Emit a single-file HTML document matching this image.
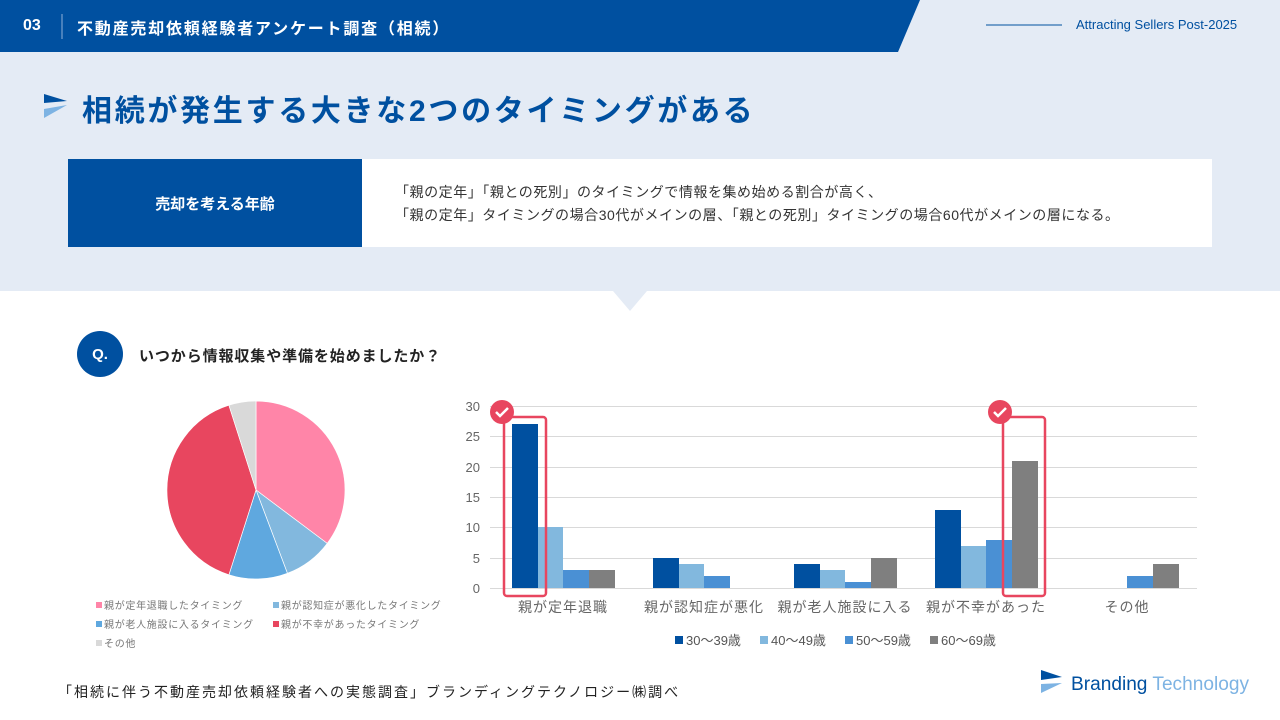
<!DOCTYPE html>
<html><head><meta charset="utf-8"><style>
*{margin:0;padding:0;box-sizing:border-box}
body{width:1280px;height:720px;overflow:hidden;background:#fff;font-family:"Liberation Sans","Noto Sans CJK JP",sans-serif;position:relative}
.abs{position:absolute}
</style></head><body>
<div class="abs" style="left:0;top:0;width:1280px;height:291px;background:#e4ebf5"></div>
<svg class="abs" style="left:0;top:0" width="1280" height="320">
<polygon points="0,0 920,0 898,52 0,52" fill="#0050a0"/>
<line x1="62" y1="14" x2="62" y2="39" stroke="#8fb0d8" stroke-width="1"/>
<line x1="986" y1="25" x2="1062" y2="25" stroke="#0050a0" stroke-width="1"/>
<polygon points="613,291 647,291 630,311" fill="#e4ebf5"/>
<polygon points="44,94 67,101 44,103" fill="#0050a0"/>
<polygon points="44,109 67,105 44,118" fill="#7db3e3"/>
</svg>
<div class="abs" style="left:23px;top:17px;color:#fff;font-weight:bold;font-size:16px">03</div>
<div class="abs" style="left:77px;top:15px;color:#fff;font-weight:bold;font-size:16px;letter-spacing:1.8px">不動産売却依頼経験者アンケート調査（相続）</div>
<div class="abs" style="left:1076px;top:17px;color:#0050a0;font-size:13px">Attracting Sellers Post-2025</div>
<div class="abs" style="left:82px;top:86px;color:#0050a0;font-weight:bold;font-size:30px;letter-spacing:2.7px">相続が発生する大きな2つのタイミングがある</div>
<div class="abs" style="left:68px;top:159px;width:294px;height:88px;background:#0050a0;color:#fff;font-weight:bold;font-size:15px;display:flex;align-items:center;justify-content:center">売却を考える年齢</div>
<div class="abs" style="left:362px;top:159px;width:850px;height:88px;background:#fff;color:#333;font-size:14px;line-height:23px;padding:22px 0 0 33px;letter-spacing:0.55px">「親の定年」「親との死別」のタイミングで情報を集め始める割合が高く、<br>「親の定年」タイミングの場合30代がメインの層、「親との死別」タイミングの場合60代がメインの層になる。</div>
<div class="abs" style="left:77px;top:331px;width:46px;height:46px;border-radius:50%;background:#0050a0;color:#fff;font-weight:bold;font-size:15px;display:flex;align-items:center;justify-content:center">Q.</div>
<div class="abs" style="left:139px;top:345px;color:#222;font-weight:bold;font-size:15px;letter-spacing:0.9px">いつから情報収集や準備を始めましたか？</div>
<svg class="abs" style="left:0;top:0" width="1280" height="720" font-family="Liberation Sans, Noto Sans CJK JP, sans-serif">
<path d="M256,490 L256,401 A89,89 0 0 1 327.2,543.4Z" fill="#ff85a8" stroke="#fff" stroke-width="0.7"/>
<path d="M256,490 L327.2,543.4 A89,89 0 0 1 287.4,573.3Z" fill="#82b8de" stroke="#fff" stroke-width="0.7"/>
<path d="M256,490 L287.4,573.3 A89,89 0 0 1 228.9,574.8Z" fill="#5fa8df" stroke="#fff" stroke-width="0.7"/>
<path d="M256,490 L228.9,574.8 A89,89 0 0 1 228.9,405.2Z" fill="#e8465f" stroke="#fff" stroke-width="0.7"/>
<path d="M256,490 L228.9,405.2 A89,89 0 0 1 256,401Z" fill="#d9d9d9" stroke="#fff" stroke-width="0.7"/>
<g font-size="10" fill="#777" letter-spacing="0.7">
<rect x="96" y="602" width="6" height="6" fill="#ff85a8"/><text x="104" y="609">親が定年退職したタイミング</text>
<rect x="273" y="602" width="6" height="6" fill="#82b8de"/><text x="281" y="609">親が認知症が悪化したタイミング</text>
<rect x="96" y="621" width="6" height="6" fill="#5fa8df"/><text x="104" y="628">親が老人施設に入るタイミング</text>
<rect x="273" y="621" width="6" height="6" fill="#e8465f"/><text x="281" y="628">親が不幸があったタイミング</text>
<rect x="96" y="640" width="6" height="6" fill="#d9d9d9"/><text x="104" y="647">その他</text>
</g>
<g stroke="#d9d9d9" stroke-width="1">
<line x1="490" y1="406.5" x2="1197" y2="406.5"/><line x1="490" y1="436.5" x2="1197" y2="436.5"/>
<line x1="490" y1="467.5" x2="1197" y2="467.5"/><line x1="490" y1="497.5" x2="1197" y2="497.5"/>
<line x1="490" y1="527.5" x2="1197" y2="527.5"/><line x1="490" y1="558.5" x2="1197" y2="558.5"/>
<line x1="490" y1="588.5" x2="1197" y2="588.5"/>
</g>
<g font-size="13" fill="#666" text-anchor="end">
<text x="480" y="411">30</text><text x="480" y="441">25</text><text x="480" y="472">20</text><text x="480" y="502">15</text><text x="480" y="532">10</text><text x="480" y="563">5</text><text x="480" y="593">0</text>
</g>
<g>
<rect x="512" y="424" width="26" height="164" fill="#0050a0"/><rect x="538" y="527" width="25" height="61" fill="#82b8de"/><rect x="563" y="570" width="26" height="18" fill="#4a90d4"/><rect x="589" y="570" width="26" height="18" fill="#7f7f7f"/>
<rect x="653" y="558" width="26" height="30" fill="#0050a0"/><rect x="679" y="564" width="25" height="24" fill="#82b8de"/><rect x="704" y="576" width="26" height="12" fill="#4a90d4"/>
<rect x="794" y="564" width="26" height="24" fill="#0050a0"/><rect x="820" y="570" width="25" height="18" fill="#82b8de"/><rect x="845" y="582" width="26" height="6" fill="#4a90d4"/><rect x="871" y="558" width="26" height="30" fill="#7f7f7f"/>
<rect x="935" y="510" width="26" height="78" fill="#0050a0"/><rect x="961" y="546" width="25" height="42" fill="#82b8de"/><rect x="986" y="540" width="26" height="48" fill="#4a90d4"/><rect x="1012" y="461" width="26" height="127" fill="#7f7f7f"/>
<rect x="1127" y="576" width="26" height="12" fill="#4a90d4"/><rect x="1153" y="564" width="26" height="24" fill="#7f7f7f"/>
</g>
<g font-size="14" fill="#666" text-anchor="middle" letter-spacing="1">
<text x="563" y="612">親が定年退職</text><text x="704" y="612">親が認知症が悪化</text><text x="845" y="612">親が老人施設に入る</text><text x="986" y="612">親が不幸があった</text><text x="1127" y="612">その他</text>
</g>
<g font-size="13" fill="#555">
<rect x="675" y="636" width="8" height="8" fill="#0050a0"/><text x="686" y="645">30〜39歳</text>
<rect x="760" y="636" width="8" height="8" fill="#82b8de"/><text x="771" y="645">40〜49歳</text>
<rect x="845" y="636" width="8" height="8" fill="#4a90d4"/><text x="856" y="645">50〜59歳</text>
<rect x="930" y="636" width="8" height="8" fill="#7f7f7f"/><text x="941" y="645">60〜69歳</text>
</g>
<rect x="504" y="417" width="42" height="179" rx="3" fill="none" stroke="#e8465f" stroke-width="2.5"/>
<rect x="1003" y="417" width="42" height="179" rx="3" fill="none" stroke="#e8465f" stroke-width="2.5"/>
<circle cx="502" cy="412" r="12" fill="#e8465f"/><path d="M496,412 l4,4 l8,-8" stroke="#fff" stroke-width="2.5" fill="none"/>
<circle cx="1000" cy="412" r="12" fill="#e8465f"/><path d="M994,412 l4,4 l8,-8" stroke="#fff" stroke-width="2.5" fill="none"/>
<polygon points="1041,670 1062,677 1041,680" fill="#0050a0"/>
<polygon points="1041,684 1062,683 1041,693" fill="#7db3e3"/>
<text x="1071" y="690" font-size="19" fill="#0050a0" textLength="178" lengthAdjust="spacingAndGlyphs">Branding <tspan fill="#7db3e3">Technology</tspan></text>
</svg>
<div class="abs" style="left:58px;top:682px;color:#222;font-size:14px;letter-spacing:2px">「相続に伴う不動産売却依頼経験者への実態調査」ブランディングテクノロジー㈱調べ</div>
</body></html>
